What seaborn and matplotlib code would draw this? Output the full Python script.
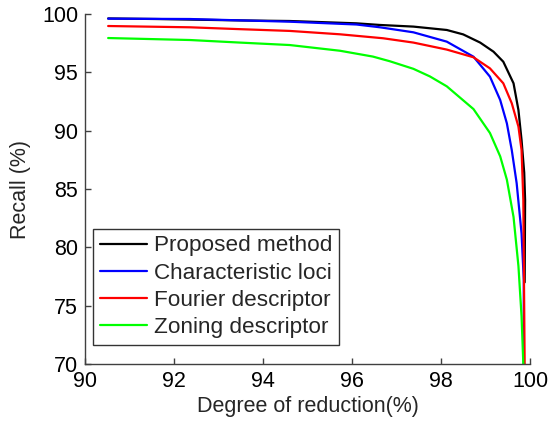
import numpy as np
import pandas as pd
import matplotlib
matplotlib.use("Agg")
import matplotlib.pyplot as plt
import seaborn as sns

# ---- data ----
series_names = ["Proposed method", "Characteristic loci", "Fourier descriptor", "Zoning descriptor"]

proposed_x = [90.52, 91.6, 93.48, 94.6, 96.1, 96.63, 97.38, 98.13, 98.5, 98.88, 99.18, 99.40,
              99.63, 99.74, 99.81, 99.87, 99.89, 99.88]
proposed_y = [99.62, 99.57, 99.45, 99.4, 99.2, 99.06, 98.92, 98.63, 98.25, 97.55, 96.77, 95.91,
              94.06, 91.77, 89.2, 86.4, 84.06, 77.0]

loci_x = [90.52, 92.36, 94.6, 96.1, 96.63, 97.38, 98.13, 98.73, 99.10, 99.33, 99.48, 99.59,
          99.70, 99.81, 99.86, 99.86]
loci_y = [99.6, 99.57, 99.34, 99.1, 98.86, 98.43, 97.63, 96.34, 94.63, 92.63, 90.63, 88.34,
          85.5, 81.2, 77.2, 70.0]

fourier_x = [90.52, 92.36, 93.48, 94.6, 95.73, 96.7, 97.38, 98.13, 98.73, 99.10, 99.40, 99.59,
             99.74, 99.81, 99.85, 99.88]
fourier_y = [98.97, 98.86, 98.7, 98.55, 98.26, 97.92, 97.55, 96.95, 96.29, 95.34, 94.06, 92.35,
             90.35, 88.34, 84.06, 70.0]

zoning_x = [90.52, 92.36, 93.48, 94.6, 95.73, 96.47, 96.85, 97.38, 97.75, 98.13, 98.73, 99.10,
            99.33, 99.48, 99.63, 99.74, 99.81, 99.85]
zoning_y = [97.94, 97.77, 97.55, 97.34, 96.85, 96.35, 95.95, 95.3, 94.65, 93.8, 91.85, 89.8,
            87.8, 85.8, 82.6, 78.4, 74.1, 70.0]

x_ticks = [90, 92, 94, 96, 98, 100]
y_ticks = [70, 75, 80, 85, 90, 95, 100]
colors = ["#000000", "#0000ff", "#ff0000", "#00ff00"]

# ---- build long-form table ----
frames = []
for name, xs, ys in zip(series_names,
                        [proposed_x, loci_x, fourier_x, zoning_x],
                        [proposed_y, loci_y, fourier_y, zoning_y]):
    frames.append(pd.DataFrame({"reduction": xs, "recall": ys, "method": name}))
df = pd.concat(frames, ignore_index=True)

sns.set_style("white")
plt.rcParams["font.family"] = ["Liberation Sans", "DejaVu Sans"]

fig = plt.figure(figsize=(5.51, 4.23), dpi=100)
ax = fig.add_axes([85 / 551, 1 - 364 / 423, 445 / 551, 350 / 423])

sns.lineplot(data=df, x="reduction", y="recall", hue="method", hue_order=series_names,
             palette=colors, sort=False, estimator=None, linewidth=1.6, ax=ax)

ax.set_xlim(90, 100)
ax.set_ylim(70, 100)
ax.set_xticks(x_ticks)
ax.set_yticks(y_ticks)
ax.tick_params(direction="in", length=4, width=1, color="#404040", labelsize=15.5, pad=5,
               bottom=True, left=True, labelcolor="black")
for s in ["top", "right"]:
    ax.spines[s].set_visible(False)
for s in ["left", "bottom"]:
    ax.spines[s].set_color("#404040")
    ax.spines[s].set_linewidth(1.0)

ax.set_xlabel("Degree of reduction(%)", fontsize=15.5, labelpad=3)
ax.set_ylabel("Recall (%)", fontsize=15.5, labelpad=8)

leg = ax.legend(loc="lower left", bbox_to_anchor=(0.018, 0.054), borderaxespad=0,
                fontsize=16.2, frameon=True, fancybox=False, handlelength=2.1,
                handletextpad=0.3, labelspacing=0.28, borderpad=0.3)
leg.get_frame().set_edgecolor("black")
leg.get_frame().set_linewidth(1.0)
for line in leg.get_lines():
    line.set_linewidth(1.6)

fig.savefig("out.png", dpi=100)
